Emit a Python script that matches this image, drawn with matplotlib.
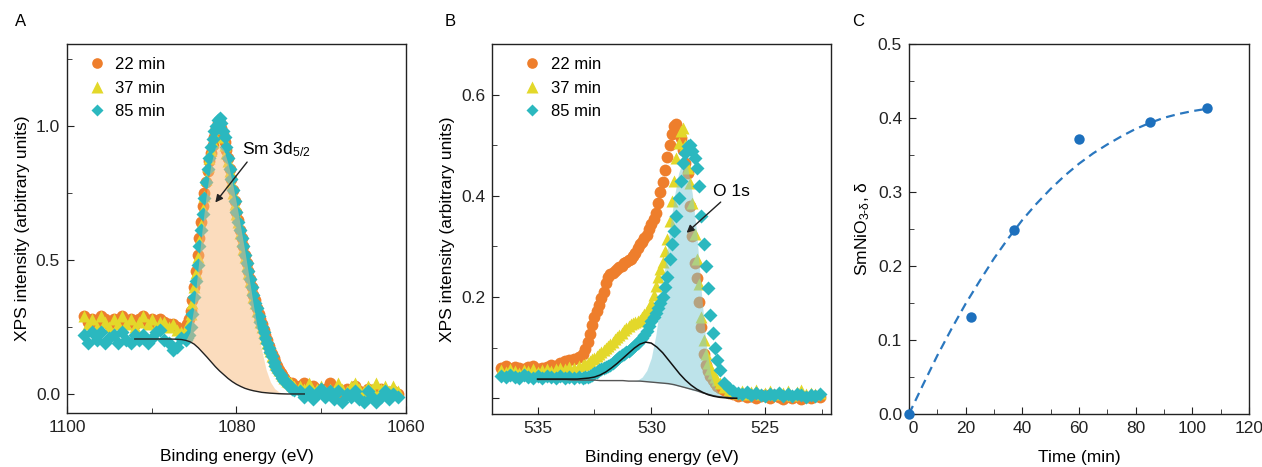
import matplotlib
matplotlib.use("Agg")
import matplotlib.pyplot as plt
from matplotlib.ticker import MultipleLocator

plt.rcParams["font.family"] = ["Liberation Sans", "DejaVu Sans"]
plt.rcParams["mathtext.fontset"] = "custom"
plt.rcParams["mathtext.rm"] = "Liberation Sans"
plt.rcParams["mathtext.it"] = "Liberation Sans:italic"
plt.rcParams["mathtext.default"] = "rm"

ORANGE = "#ee7e2c"
YELLOW = "#e3d82a"
TEAL = "#2bb8bf"
BLUE = "#1d70bd"

# ---- panel A: Sm 3d5/2 ----
energy_a = [1098.0, 1097.5, 1097.0, 1096.5, 1096.0, 1095.5, 1095.0, 1094.5, 1094.0, 1093.5, 1093.0, 1092.5,
            1092.0, 1091.5, 1091.0, 1090.5, 1090.0, 1089.5, 1089.0, 1088.5, 1088.0, 1087.5, 1087.0, 1086.5,
            1086.0, 1085.8, 1085.6, 1085.4, 1085.2, 1085.0, 1084.8, 1084.6, 1084.4, 1084.2, 1084.0, 1083.8,
            1083.6, 1083.4, 1083.2, 1083.0, 1082.8, 1082.6, 1082.4, 1082.2, 1082.0, 1081.8, 1081.6, 1081.4,
            1081.2, 1081.0, 1080.8, 1080.6, 1080.4, 1080.2, 1080.0, 1079.8, 1079.6, 1079.4, 1079.2, 1079.0,
            1078.8, 1078.6, 1078.4, 1078.2, 1078.0, 1077.8, 1077.6, 1077.4, 1077.2, 1077.0, 1076.8, 1076.6,
            1076.4, 1076.2, 1076.0, 1075.8, 1075.6, 1075.4, 1075.2, 1075.0, 1074.8, 1074.6, 1074.4, 1074.2,
            1074.0, 1073.8, 1073.6, 1073.4, 1073.2,
            1072.5, 1072.0, 1071.5, 1071.0, 1070.5, 1070.0, 1069.5, 1069.0, 1068.5, 1068.0, 1067.5, 1067.0,
            1066.5, 1066.0, 1065.5, 1065.0, 1064.5, 1064.0, 1063.5, 1063.0, 1062.5, 1062.0, 1061.5, 1061.0]

a_22 = [0.29, 0.27, 0.28, 0.26, 0.29, 0.28, 0.26, 0.28, 0.27, 0.29, 0.27, 0.28,
        0.26, 0.28, 0.29, 0.27, 0.28, 0.26, 0.28, 0.27, 0.26, 0.26, 0.25, 0.24,
        0.25, 0.26, 0.28, 0.31, 0.35, 0.40, 0.46, 0.52, 0.58, 0.64, 0.70, 0.75,
        0.79, 0.83, 0.87, 0.90, 0.93, 0.96, 0.99, 1.01, 1.01, 0.99, 0.97, 0.94,
        0.91, 0.88, 0.84, 0.80, 0.76, 0.72, 0.68, 0.65, 0.61, 0.58, 0.55, 0.52,
        0.49, 0.46, 0.43, 0.40, 0.37, 0.35, 0.32, 0.30, 0.28, 0.26, 0.24, 0.22,
        0.20, 0.18, 0.165, 0.15, 0.135, 0.12, 0.105, 0.09, 0.08, 0.07, 0.06, 0.05,
        0.045, 0.04, 0.035, 0.04, 0.03,
        0.03, 0.04, 0.02, 0.03, 0.02, 0.01, 0.02, 0.04, 0.01, 0.02, 0.00, 0.02,
        0.01, 0.03, 0.01, 0.00, 0.02, 0.01, -0.01, 0.02, 0.01, 0.00, 0.01, 0.00]

a_37 = [0.29, 0.26, 0.28, 0.25, 0.29, 0.27, 0.25, 0.28, 0.26, 0.29, 0.26, 0.28,
        0.25, 0.27, 0.29, 0.26, 0.28, 0.25, 0.27, 0.27, 0.25, 0.26, 0.24, 0.23,
        0.24, 0.25, 0.27, 0.30, 0.34, 0.40, 0.45, 0.51, 0.57, 0.63, 0.69, 0.74,
        0.80, 0.85, 0.88, 0.91, 0.94, 0.97, 0.99, 1.00, 1.00, 0.99, 0.96, 0.93,
        0.90, 0.87, 0.83, 0.79, 0.75, 0.71, 0.67, 0.64, 0.60, 0.57, 0.54, 0.51,
        0.48, 0.45, 0.42, 0.39, 0.36, 0.34, 0.31, 0.29, 0.27, 0.25, 0.23, 0.21,
        0.19, 0.17, 0.16, 0.14, 0.125, 0.11, 0.10, 0.09, 0.08, 0.07, 0.06, 0.055,
        0.05, 0.045, 0.04, 0.035, 0.03,
        0.03, 0.02, 0.04, 0.01, 0.02, 0.03, 0.01, 0.02, 0.01, 0.04, 0.02, 0.01,
        0.03, 0.04, 0.02, 0.01, 0.03, 0.02, 0.04, 0.02, 0.03, 0.01, 0.03, 0.01]

a_85 = [0.22, 0.19, 0.23, 0.20, 0.23, 0.19, 0.21, 0.22, 0.19, 0.23, 0.20, 0.19,
        0.22, 0.20, 0.22, 0.19, 0.21, 0.23, 0.24, 0.20, 0.19, 0.165, 0.175, 0.21,
        0.20, 0.21, 0.22, 0.25, 0.30, 0.36, 0.42, 0.48, 0.55, 0.61, 0.67, 0.73,
        0.79, 0.84, 0.88, 0.92, 0.95, 0.98, 1.00, 1.02, 1.03, 1.01, 0.98, 0.96,
        0.92, 0.88, 0.84, 0.80, 0.76, 0.72, 0.68, 0.64, 0.61, 0.58, 0.55, 0.52,
        0.49, 0.46, 0.43, 0.40, 0.37, 0.34, 0.32, 0.29, 0.27, 0.25, 0.23, 0.21,
        0.19, 0.17, 0.155, 0.14, 0.12, 0.105, 0.09, 0.08, 0.07, 0.06, 0.05, 0.045,
        0.04, 0.03, 0.025, 0.02, 0.015,
        0.01, -0.01, 0.01, -0.02, 0.00, 0.02, -0.01, 0.01, -0.02, 0.01, -0.03, 0.00,
        -0.01, 0.01, -0.02, -0.03, 0.01, -0.01, -0.03, -0.01, 0.01, -0.02, 0.00, -0.01]

# background (Shirley) and fitted Sm 3d5/2 peak
bg_a_e = [1092.0, 1091.0, 1090.0, 1089.0, 1088.0, 1087.0, 1086.5, 1086.0, 1085.5, 1085.0, 1084.5, 1084.0,
          1083.5, 1083.0, 1082.5, 1082.0, 1081.5, 1081.0, 1080.5, 1080.0, 1079.5, 1079.0, 1078.5, 1078.0,
          1077.0, 1076.0, 1075.0, 1074.0, 1073.0, 1072.0]
bg_a = [0.205, 0.205, 0.205, 0.205, 0.205, 0.204, 0.203, 0.200, 0.195, 0.186, 0.172, 0.155,
        0.138, 0.120, 0.102, 0.086, 0.072, 0.058, 0.046, 0.036, 0.028, 0.021, 0.016, 0.012,
        0.006, 0.003, 0.001, 0.0, 0.0, 0.0]

peak_a_e = [1086.0, 1085.5, 1085.0, 1084.5, 1084.0, 1083.5, 1083.0, 1082.5, 1082.0, 1081.5, 1081.0, 1080.5,
            1080.0, 1079.5, 1079.0, 1078.5, 1078.0, 1077.5, 1077.0, 1076.5, 1076.0, 1075.5, 1075.0, 1074.5, 1074.0]
peak_a_low = [0.200, 0.195, 0.186, 0.172, 0.155, 0.138, 0.120, 0.102, 0.086, 0.072, 0.058, 0.046,
              0.036, 0.028, 0.021, 0.016, 0.012, 0.009, 0.006, 0.004, 0.003, 0.002, 0.001, 0.0, 0.0]
peak_a_top = [0.200, 0.23, 0.33, 0.48, 0.63, 0.76, 0.86, 0.92, 0.93, 0.91, 0.86, 0.79,
              0.71, 0.62, 0.53, 0.43, 0.33, 0.24, 0.16, 0.09, 0.045, 0.02, 0.008, 0.002, 0.0]

# ---- panel B: O 1s ----
energy_b = [536.6, 536.4, 536.2, 536.0, 535.8, 535.6, 535.4, 535.2, 535.0, 534.8, 534.6, 534.4,
            534.2, 534.0, 533.8, 533.6, 533.4, 533.2, 533.0,
            532.9, 532.8, 532.7, 532.6, 532.5, 532.4, 532.3, 532.2, 532.1, 532.0, 531.9, 531.8,
            531.7, 531.6, 531.5, 531.4, 531.3, 531.2, 531.1, 531.0, 530.9, 530.8, 530.7, 530.6,
            530.5, 530.4, 530.3, 530.2, 530.1, 530.0, 529.9, 529.8, 529.7, 529.6, 529.5, 529.4,
            529.3, 529.2, 529.1, 529.0, 528.9, 528.8, 528.7, 528.6, 528.5, 528.4, 528.3, 528.2,
            528.1, 528.0, 527.9, 527.8, 527.7, 527.6, 527.5, 527.4, 527.3, 527.2, 527.1, 527.0,
            526.8, 526.6, 526.4, 526.2, 526.0, 525.8, 525.6, 525.4, 525.2, 525.0, 524.8, 524.6,
            524.4, 524.2, 524.0, 523.8, 523.6, 523.4, 523.2, 523.0, 522.8, 522.6]

b_22 = [0.060, 0.064, 0.058, 0.062, 0.060, 0.057, 0.061, 0.063, 0.058, 0.060, 0.062, 0.066,
        0.064, 0.070, 0.073, 0.075, 0.078, 0.082, 0.088,
        0.098, 0.112, 0.127, 0.145, 0.160, 0.172, 0.185, 0.198, 0.210, 0.228, 0.240, 0.245,
        0.248, 0.252, 0.256, 0.260, 0.262, 0.268, 0.270, 0.274, 0.276, 0.282, 0.288, 0.296,
        0.304, 0.308, 0.316, 0.322, 0.334, 0.345, 0.355, 0.367, 0.385, 0.407, 0.428, 0.452,
        0.476, 0.500, 0.522, 0.538, 0.542, 0.530, 0.515, 0.490, 0.465, 0.446, 0.380, 0.320,
        0.268, 0.238, 0.190, 0.140, 0.088, 0.066, 0.054, 0.045, 0.037, 0.031, 0.025, 0.021,
        0.016, 0.011, 0.008, 0.004, 0.006, 0.002, 0.005, 0.000, 0.004, 0.007, 0.001, 0.006,
        0.003, -0.002, 0.004, 0.001, 0.005, -0.001, 0.003, 0.000, 0.004, 0.002]

b_37 = [0.055, 0.052, 0.058, 0.054, 0.050, 0.056, 0.053, 0.057, 0.052, 0.055, 0.058, 0.054,
        0.057, 0.060, 0.058, 0.062, 0.060, 0.064, 0.066,
        0.068, 0.070, 0.074, 0.078, 0.080, 0.084, 0.088, 0.092, 0.096, 0.100, 0.104, 0.108,
        0.112, 0.118, 0.122, 0.126, 0.130, 0.134, 0.138, 0.142, 0.146, 0.148, 0.150, 0.152,
        0.155, 0.160, 0.166, 0.172, 0.178, 0.188, 0.205, 0.222, 0.240, 0.256, 0.270, 0.292,
        0.315, 0.350, 0.390, 0.430, 0.475, 0.505, 0.528, 0.535, 0.500, 0.455, 0.425, 0.385,
        0.325, 0.275, 0.225, 0.160, 0.115, 0.088, 0.070, 0.058, 0.050, 0.042, 0.036, 0.030,
        0.022, 0.016, 0.012, 0.010, 0.014, 0.008, 0.012, 0.016, 0.009, 0.011, 0.015, 0.008,
        0.012, 0.010, 0.014, 0.007, 0.012, 0.016, 0.009, 0.011, 0.008, 0.010]

b_85 = [0.045, 0.042, 0.047, 0.043, 0.040, 0.046, 0.043, 0.040, 0.044, 0.041, 0.045, 0.042,
        0.040, 0.044, 0.041, 0.043, 0.040, 0.042, 0.041,
        0.043, 0.042, 0.045, 0.047, 0.050, 0.052, 0.055, 0.058, 0.060, 0.062, 0.064, 0.066,
        0.070, 0.074, 0.078, 0.082, 0.085, 0.088, 0.091, 0.094, 0.098, 0.102, 0.106, 0.110,
        0.115, 0.120, 0.126, 0.132, 0.142, 0.152, 0.160, 0.168, 0.178, 0.188, 0.200, 0.220,
        0.240, 0.275, 0.305, 0.330, 0.360, 0.395, 0.430, 0.465, 0.485, 0.498, 0.500, 0.488,
        0.475, 0.455, 0.420, 0.360, 0.305, 0.262, 0.218, 0.165, 0.130, 0.100, 0.075, 0.055,
        0.030, 0.020, 0.014, 0.010, 0.008, 0.012, 0.006, 0.010, 0.007, 0.004, 0.009, 0.006,
        0.011, 0.005, 0.008, 0.004, 0.009, 0.006, 0.003, 0.007, 0.005, 0.008]

# fitted components for O 1s
fit_b_e = [535.0, 534.75, 534.5, 534.25, 534.0, 533.75, 533.5, 533.25, 533.0, 532.75, 532.5, 532.25,
           532.0, 531.75, 531.5, 531.25, 531.0, 530.75, 530.5, 530.25, 530.0, 529.75, 529.5, 529.25,
           529.0, 528.75, 528.5, 528.25, 528.0, 527.75, 527.5, 527.25, 527.0, 526.75, 526.5, 526.25]
bg_b = [0.037, 0.037, 0.037, 0.037, 0.037, 0.037, 0.036, 0.036, 0.036, 0.036, 0.036, 0.035,
        0.035, 0.035, 0.035, 0.035, 0.034, 0.034, 0.034, 0.033, 0.032, 0.031, 0.030, 0.029,
        0.027, 0.024, 0.021, 0.018, 0.015, 0.011, 0.008, 0.005, 0.003, 0.002, 0.001, 0.0]
comp_b = [0.038, 0.038, 0.038, 0.038, 0.038, 0.038, 0.038, 0.038, 0.039, 0.040, 0.042, 0.046,
          0.052, 0.060, 0.069, 0.079, 0.089, 0.099, 0.107, 0.111, 0.109, 0.101, 0.090, 0.076,
          0.062, 0.048, 0.036, 0.026, 0.018, 0.012, 0.007, 0.004, 0.002, 0.001, 0.0, 0.0]

peak_b_e = [530.8, 530.6, 530.4, 530.2, 530.0, 529.8, 529.6, 529.4, 529.2, 529.0, 528.8, 528.6,
            528.4, 528.2, 528.0, 527.8, 527.6, 527.4, 527.2, 527.0, 526.8, 526.6]
peak_b_low = [0.034, 0.034, 0.034, 0.033, 0.032, 0.031, 0.030, 0.029, 0.028, 0.026, 0.024, 0.022,
              0.019, 0.016, 0.014, 0.011, 0.009, 0.007, 0.005, 0.003, 0.002, 0.001]
peak_b_top = [0.034, 0.036, 0.042, 0.055, 0.080, 0.125, 0.190, 0.260, 0.330, 0.395, 0.445, 0.470,
              0.455, 0.405, 0.325, 0.210, 0.110, 0.050, 0.020, 0.008, 0.003, 0.001]

# ---- panel C: delta vs time ----
time_min = [0, 22, 37, 60, 85, 105]
delta = [0.0, 0.131, 0.249, 0.372, 0.394, 0.413]
fit_t = [0, 5, 10, 15, 20, 25, 30, 35, 40, 45, 50, 55, 60, 65, 70, 75, 80, 85, 90, 95, 100, 105]
fit_delta = [0.0, 0.040, 0.079, 0.115, 0.149, 0.180, 0.210, 0.237, 0.262, 0.284, 0.304, 0.322,
             0.338, 0.352, 0.364, 0.375, 0.385, 0.393, 0.400, 0.405, 0.409, 0.412]

fig = plt.figure(figsize=(12.62, 4.67), dpi=100)
axA = fig.add_axes([0.0531, 0.1156, 0.2686, 0.7902])
axB = fig.add_axes([0.3899, 0.1135, 0.2686, 0.7923])
axC = fig.add_axes([0.7203, 0.1135, 0.2694, 0.7929])

for ax in (axA, axB, axC):
    for s in ax.spines.values():
        s.set_linewidth(1.0)
        s.set_color("#222222")
    ax.tick_params(which="both", direction="in", labelsize=12.5, colors="#222222", pad=5)
    ax.tick_params(which="major", length=5)
    ax.tick_params(which="minor", length=3.5)

leg_kw = dict(loc="upper left", frameon=False, fontsize=12, handletextpad=0.5,
              labelspacing=0.5, handlelength=1.2, borderaxespad=0.4, markerscale=0.9)

# A
axA.plot(energy_a, a_22, ls="none", marker="o", ms=8.5, mec="none", color=ORANGE, label="22 min", zorder=2)
axA.plot(energy_a, a_37, ls="none", marker="^", ms=9, mec="none", color=YELLOW, label="37 min", zorder=3)
axA.plot(energy_a, a_85, ls="none", marker="D", ms=7, mec="none", color=TEAL, label="85 min", zorder=4)
axA.fill_between(peak_a_e, peak_a_low, peak_a_top, color="#f9bb7d", alpha=0.5, lw=0, zorder=5)
axA.plot(bg_a_e, bg_a, color="#222222", lw=1.0, zorder=6)
axA.annotate("Sm 3d$_{5/2}$", xy=(1082.5, 0.714), xytext=(1079.3, 0.91), fontsize=12.5,
             va="center", ha="left",
             arrowprops=dict(arrowstyle="-|>", color="#222222", lw=1.0, mutation_scale=11,
                             shrinkA=0, shrinkB=0, relpos=(0.1, 0.0)), zorder=7)
axA.set_xlim(1100, 1060)
axA.set_ylim(-0.071, 1.305)
axA.set_xticks([1100, 1080, 1060])
axA.xaxis.set_minor_locator(MultipleLocator(10))
axA.set_yticks([0.0, 0.5, 1.0])
axA.yaxis.set_minor_locator(MultipleLocator(0.25))
axA.set_xlabel("Binding energy (eV)", fontsize=12.5, labelpad=10)
axA.set_ylabel("XPS intensity (arbitrary units)", fontsize=12.5)
axA.legend(bbox_to_anchor=(0.02, 1.0), **leg_kw)

# B
axB.plot(energy_b, b_22, ls="none", marker="o", ms=8.5, mec="none", color=ORANGE, label="22 min", zorder=2)
axB.plot(energy_b, b_37, ls="none", marker="^", ms=9, mec="none", color=YELLOW, label="37 min", zorder=3)
axB.fill_between(peak_b_e, peak_b_low, peak_b_top, color="#7dc9d7", alpha=0.5, lw=0, zorder=4)
axB.plot(energy_b, b_85, ls="none", marker="D", ms=7, mec="none", color=TEAL, label="85 min", zorder=5)
axB.plot(fit_b_e, bg_b, color="#555555", lw=1.0, zorder=6)
axB.plot(fit_b_e, comp_b, color="#111111", lw=1.1, zorder=7)
axB.annotate("O 1s", xy=(528.45, 0.327), xytext=(527.3, 0.408), fontsize=12.5,
             va="center", ha="left",
             arrowprops=dict(arrowstyle="-|>", color="#222222", lw=1.0, mutation_scale=11,
                             shrinkA=0, shrinkB=0, relpos=(0.3, 0.0)), zorder=8)
axB.set_xlim(537.0, 522.1)
axB.set_ylim(-0.031, 0.70)
axB.set_xticks([535, 530, 525])
axB.xaxis.set_minor_locator(MultipleLocator(2.5))
axB.set_yticks([0.0, 0.2, 0.4, 0.6])
axB.set_yticklabels(["", "0.2", "0.4", "0.6"])
axB.yaxis.set_minor_locator(MultipleLocator(0.1))
axB.set_xlabel("Binding energy (eV)", fontsize=12.5, labelpad=10)
axB.set_ylabel("XPS intensity (arbitrary units)", fontsize=12.5)
axB.legend(bbox_to_anchor=(0.05, 1.0), **leg_kw)

# C
axC.plot(fit_t, fit_delta, ls=(0, (4, 2.5)), color="#2a77bf", lw=1.6, zorder=2)
axC.plot(time_min, delta, ls="none", marker="o", ms=7.5, mec="none", color=BLUE, zorder=3, clip_on=False)
axC.set_xlim(0, 120)
axC.set_ylim(0, 0.5)
axC.set_xticks([0, 20, 40, 60, 80, 100, 120])
axC.set_xticklabels(["  0", "20", "40", "60", "80", "100", "120"])
axC.xaxis.set_minor_locator(MultipleLocator(10))
axC.set_yticks([0.0, 0.1, 0.2, 0.3, 0.4, 0.5])
axC.yaxis.set_minor_locator(MultipleLocator(0.05))
axC.set_xlabel("Time (min)", fontsize=12.5, labelpad=10)
axC.set_ylabel(r"SmNiO$_{3\text{-}\delta}$, $\delta$", fontsize=12.5)

fig.text(0.012, 0.955, "A", fontsize=12, va="center")
fig.text(0.352, 0.955, "B", fontsize=12, va="center")
fig.text(0.675, 0.955, "C", fontsize=12, va="center")

fig.savefig("out.png", dpi=100)
